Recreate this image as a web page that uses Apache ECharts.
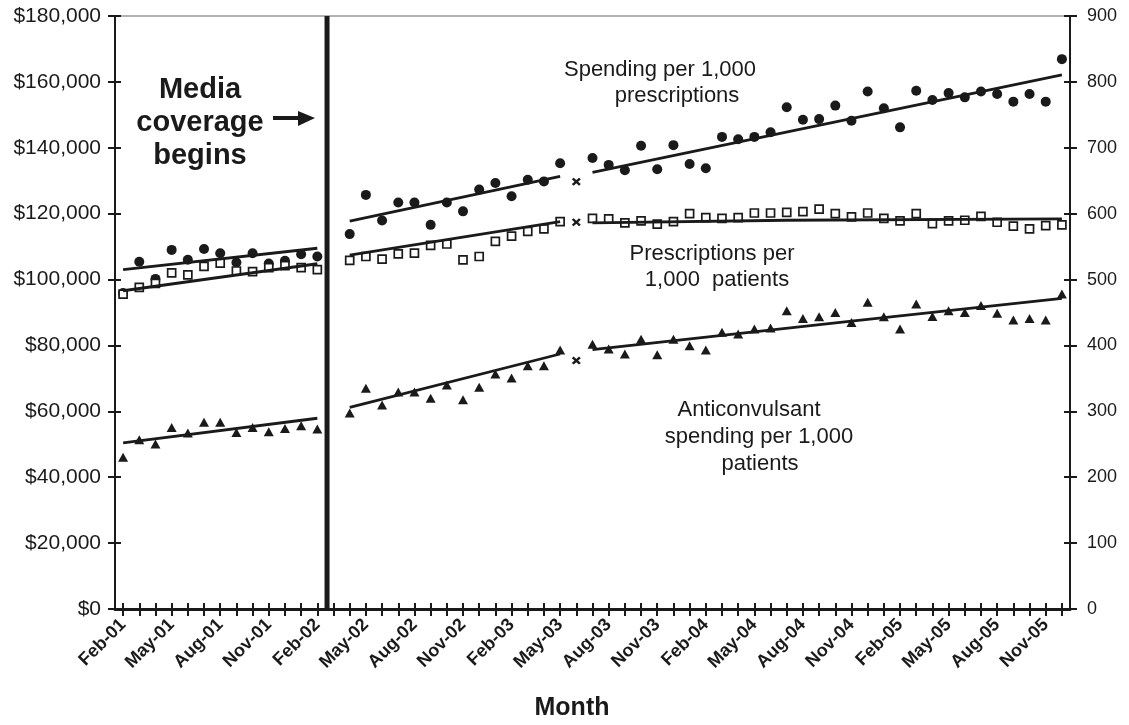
<!DOCTYPE html>
<html><head><meta charset="utf-8">
<script src="https://cdn.jsdelivr.net/npm/echarts@6/dist/echarts.min.js"></script>
<style>html,body{margin:0;padding:0;background:#fff}#c{width:1129px;height:725px}</style>
</head><body><div id="c"></div>
<script>
const months = ['Feb-01','Mar-01','Apr-01','May-01','Jun-01','Jul-01','Aug-01','Sep-01','Oct-01','Nov-01','Dec-01','Jan-02',
 'Feb-02','Mar-02','Apr-02','May-02','Jun-02','Jul-02','Aug-02','Sep-02','Oct-02','Nov-02','Dec-02','Jan-03',
 'Feb-03','Mar-03','Apr-03','May-03','Jun-03','Jul-03','Aug-03','Sep-03','Oct-03','Nov-03','Dec-03','Jan-04',
 'Feb-04','Mar-04','Apr-04','May-04','Jun-04','Jul-04','Aug-04','Sep-04','Oct-04','Nov-04','Dec-04','Jan-05',
 'Feb-05','Mar-05','Apr-05','May-05','Jun-05','Jul-05','Aug-05','Sep-05','Oct-05','Nov-05','Dec-05'];

// Spending per 1,000 prescriptions (left axis, $)
const spendingPerRx = [95900,105400,100200,109000,106000,109300,108000,105200,108000,104900,105700,107700,107000,
 '-',
 113800,125700,117900,123400,123400,116600,123400,120700,127300,129300,125300,130300,129800,135300,
 '-',
 136900,134800,133200,140600,133500,140800,135100,133800,143300,142600,143300,144700,152300,148500,148700,152800,
 148200,157100,152000,146200,157300,154500,156600,155300,157100,156300,154000,156300,154000,166900];

// Prescriptions per 1,000 patients (right axis)
const rxPerPatients = [478,488,494,510,507,520,525,513,512,518,521,518,515,
 '-',
 529,535,531,539,540,552,554,530,535,558,566,573,577,588,
 '-',
 593,592,586,589,584,588,600,594,593,594,601,601,602,603,607,600,595,601,593,589,600,585,589,590,596,587,581,577,582,583];

// Anticonvulsant spending per 1,000 patients (left axis, $)
const spendingPerPatients = [46100,51400,50100,55100,53400,56700,56700,53600,55100,53800,54800,55600,54600,
 '-',
 59500,67000,61900,65900,65900,64000,68000,63500,67300,71300,70100,73800,73800,78600,
 '-',
 80400,78900,77400,81900,77200,81900,79900,78600,84000,83500,85000,85300,90500,88200,88700,90000,87000,93100,
 88700,85000,92600,88800,90500,90000,92100,89800,87700,88200,87700,95600];

// excluded month marked with x
const excludedMonth = 'Jun-03';
const excludedSpendingPerRx = 129700;
const excludedRxPerPatients = 587;
const excludedSpendingPerPatients = 75400;

// fitted trend segments [month, value]
const trendSpendingPerRx = [[['Feb-01',103000],['Feb-02',109500]],[['Apr-02',117700],['May-03',131300]],[['Jul-03',132500],['Dec-05',162100]]];
const trendRxPerPatients = [[['Feb-01',483],['Feb-02',524]],[['Apr-02',537],['May-03',588]],[['Jul-03',586],['Jul-04',590],['Dec-05',592]]];
const trendSpendingPerPatients = [[['Feb-01',50400],['Feb-02',57900]],[['Apr-02',61200],['May-03',77400]],[['Jul-03',78700],['Nov-04',87400],['Dec-05',94300]]];

// media coverage begins (position in month index units)
const mediaStart = 12.6;

const leftMin = 0, leftMax = 180000, leftStep = 20000;
const rightMin = 0, rightMax = 900, rightStep = 100;

const FONT = "'Liberation Sans', Arial, sans-serif";
const INK = '#1a1a1a';
const idx = m => months.indexOf(m);

const series = [];
series.push({type:'scatter', xAxisIndex:0, yAxisIndex:0, data:spendingPerRx, symbol:'circle', symbolSize:10,
  itemStyle:{color:INK, opacity:1}, z:3});
series.push({type:'scatter', xAxisIndex:0, yAxisIndex:1, data:rxPerPatients, symbol:'rect', symbolSize:8,
  itemStyle:{color:'#fff', borderColor:INK, borderWidth:1.7, opacity:1}, z:3});
series.push({type:'scatter', xAxisIndex:0, yAxisIndex:0, data:spendingPerPatients, symbol:'triangle', symbolSize:[10,9],
  itemStyle:{color:INK, opacity:1}, z:3});
const xPath = 'path://M0,2 L2,0 L5,3 L8,0 L10,2 L7,5 L10,8 L8,10 L5,7 L2,10 L0,8 L3,5 Z';
series.push({type:'scatter', xAxisIndex:0, yAxisIndex:0,
  data:[[idx(excludedMonth), excludedSpendingPerRx],[idx(excludedMonth), excludedSpendingPerPatients]],
  symbol:xPath, symbolSize:[9,8], itemStyle:{color:INK, opacity:1}, z:3});
series.push({type:'scatter', xAxisIndex:0, yAxisIndex:1,
  data:[[idx(excludedMonth), excludedRxPerPatients]],
  symbol:xPath, symbolSize:[9,8], itemStyle:{color:INK, opacity:1}, z:3});
function addTrend(segs, yi){
  segs.forEach(seg=>{
    series.push({type:'line', xAxisIndex:0, yAxisIndex:yi, data:seg.map(p=>[idx(p[0]),p[1]]),
      symbol:'none', lineStyle:{color:INK, width:2.8}, z:4, silent:true});
  });
}
addTrend(trendSpendingPerRx,0);
addTrend(trendRxPerPatients,1);
addTrend(trendSpendingPerPatients,0);
series.push({type:'line', xAxisIndex:1, yAxisIndex:0, data:[[mediaStart,leftMin],[mediaStart,leftMax]],
  symbol:'none', lineStyle:{color:INK, width:5}, z:5, silent:true});

const chart = echarts.init(document.getElementById('c'), null, {renderer:'canvas'});
chart.setOption({
  animation:false,
  backgroundColor:'#fff',
  textStyle:{fontFamily:FONT},
  grid:{left:115, right:59, top:16, bottom:116, show:true, borderColor:'#999', borderWidth:1.5},
  xAxis:[
    {type:'category', data:months, position:'bottom', boundaryGap:true,
     axisLine:{onZero:false, lineStyle:{color:INK, width:3}},
     axisTick:{show:true, interval:0, alignWithLabel:true, length:7, lineStyle:{color:INK, width:2}},
     axisLabel:{interval:2, rotate:45, fontFamily:FONT, fontWeight:'bold', fontSize:18, color:INK, margin:13},
     splitLine:{show:false}},
    {type:'value', min:-0.5, max:months.length-0.5, show:false, position:'bottom'},
    {type:'category', data:months, position:'bottom', boundaryGap:true,
     axisLine:{show:false, onZero:false},
     axisTick:{show:true, inside:true, interval:0, alignWithLabel:true, length:6, lineStyle:{color:INK, width:2}},
     axisLabel:{show:false}, splitLine:{show:false}}
  ],
  yAxis:[
    {type:'value', position:'left', min:leftMin, max:leftMax, interval:leftStep,
     axisLine:{show:true, onZero:false, lineStyle:{color:INK, width:2}},
     axisTick:{show:true, length:7, lineStyle:{color:INK, width:2}},
     axisLabel:{fontFamily:FONT, fontSize:21, color:INK, margin:14,
       formatter:v=>'$'+v.toLocaleString('en-US')},
     splitLine:{show:false}},
    {type:'value', position:'right', min:rightMin, max:rightMax, interval:rightStep,
     axisLine:{show:true, onZero:false, lineStyle:{color:INK, width:2}},
     axisTick:{show:true, length:7, lineStyle:{color:INK, width:2}},
     axisLabel:{fontFamily:FONT, fontSize:18, color:INK, margin:17},
     splitLine:{show:false}},
    {type:'value', position:'left', min:leftMin, max:leftMax, interval:leftStep,
     axisLine:{show:false, onZero:false}, axisTick:{show:true, inside:true, length:6, lineStyle:{color:INK, width:2}},
     axisLabel:{show:false}, splitLine:{show:false}},
    {type:'value', position:'right', min:rightMin, max:rightMax, interval:rightStep,
     axisLine:{show:false, onZero:false}, axisTick:{show:true, inside:true, length:6, lineStyle:{color:INK, width:2}},
     axisLabel:{show:false}, splitLine:{show:false}}
  ],
  graphic:[
    {type:'text', x:200, y:123, style:{text:'Media\ncoverage\nbegins', font:"bold 29px "+FONT,
      fill:INK, textAlign:'center', textVerticalAlign:'middle', lineHeight:33}},
    {type:'rect', shape:{x:273, y:116, width:28, height:4}, style:{fill:INK}},
    {type:'polygon', shape:{points:[[298,111],[315,118],[298,126]]}, style:{fill:INK}},
    {type:'text', x:660, y:70, style:{text:'Spending per 1,000', font:"22px "+FONT, fill:INK, textAlign:'center', textVerticalAlign:'middle'}},
    {type:'text', x:677, y:96, style:{text:'prescriptions', font:"22px "+FONT, fill:INK, textAlign:'center', textVerticalAlign:'middle'}},
    {type:'text', x:712, y:254, style:{text:'Prescriptions per', font:"22px "+FONT, fill:INK, textAlign:'center', textVerticalAlign:'middle'}},
    {type:'text', x:717, y:280, style:{text:'1,000  patients', font:"22px "+FONT, fill:INK, textAlign:'center', textVerticalAlign:'middle'}},
    {type:'text', x:749, y:410, style:{text:'Anticonvulsant', font:"22px "+FONT, fill:INK, textAlign:'center', textVerticalAlign:'middle'}},
    {type:'text', x:759, y:437, style:{text:'spending per 1,000', font:"22px "+FONT, fill:INK, textAlign:'center', textVerticalAlign:'middle'}},
    {type:'text', x:760, y:464, style:{text:'patients', font:"22px "+FONT, fill:INK, textAlign:'center', textVerticalAlign:'middle'}},
    {type:'text', x:572, y:708, style:{text:'Month', font:"bold 25px "+FONT, fill:INK, textAlign:'center', textVerticalAlign:'middle'}}
  ],
  series: series
});
</script></body></html>
